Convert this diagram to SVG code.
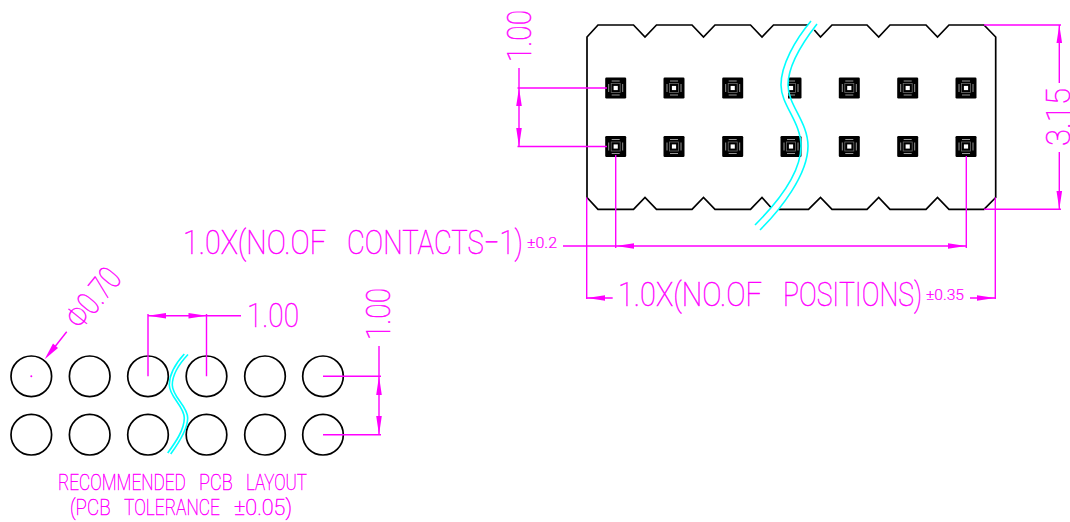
<svg xmlns="http://www.w3.org/2000/svg" width="1070" height="522" viewBox="0 0 1070 522">
<style>
.ol{fill:none;stroke:#000;stroke-width:1.7;stroke-linejoin:miter}
.hole{fill:none;stroke:#000;stroke-width:1.7}
.dim{fill:none;stroke:#ff00ff;stroke-width:1.4}
.ah{fill:#ff00ff;stroke:none}
.brk{fill:none;stroke:#00ffff;stroke-width:1.6}
text{fill:#ff00ff;font-family:"Roboto","Liberation Sans",sans-serif;font-weight:100;stroke:#ff00ff;stroke-width:.45}
.lg{font-size:33px}
.md{font-size:21.5px}
.sm{font-size:14px;font-weight:300;stroke-width:.2}
</style>
<defs>
<g id="pad">
<rect x="-10.5" y="-10.5" width="21" height="21" rx="1.2" fill="#000"/>
<path d="M-7-4V4M7-4V4M-4-7H4M-4 7H4" stroke="#a8a8a8" stroke-width=".9" fill="none"/>
<rect x="-4.5" y="-4.5" width="9" height="9" fill="none" stroke="#6a6a6a" stroke-width=".8"/>
<rect x="-2.1" y="-2.1" width="4.2" height="4.2" fill="#fff"/>
</g>
</defs>
<g id="connector-body">
<path class="ol" d="M808,25H773.5L762,37L750.5,25H715L703.5,37L692,25H656.5L645,37L633.5,25H598L587,37V197.5L598,209.3H633.5L645,197.5L656.5,209.3H692L703.5,197.5L715,209.3H750.5L762,197.5L771,207.5"/>
<path class="ol" d="M814.3,30L820.5,37L832,25H867L878.7,37L890,25H926L937.5,37L949,25H984L995.7,37V197.5L984,209.3H949L937.5,197.5L926,209.3H890L878.7,197.5L867,209.3H832L820.5,197.5L808.5,209.3H779"/>
</g>
<g id="pads">
<use href="#pad" x="615.7" y="88"/><use href="#pad" x="674" y="88"/><use href="#pad" x="732.7" y="88"/><use href="#pad" x="791" y="88"/><use href="#pad" x="849.3" y="88"/><use href="#pad" x="907.7" y="88"/><use href="#pad" x="966" y="88"/>
<use href="#pad" x="615.7" y="146.5"/><use href="#pad" x="674" y="146.5"/><use href="#pad" x="732.7" y="146.5"/><use href="#pad" x="791" y="146.5"/><use href="#pad" x="849.3" y="146.5"/><use href="#pad" x="907.7" y="146.5"/><use href="#pad" x="966" y="146.5"/>
<rect x="779" y="76" width="9" height="24" fill="#fff"/>
</g>
<g id="holes">
<circle class="hole" cx="31.3" cy="376.3" r="20.3"/><circle class="hole" cx="89.7" cy="376.3" r="20.3"/><circle class="hole" cx="148" cy="376.3" r="20.3"/><circle class="hole" cx="206.5" cy="376.3" r="20.3"/><circle class="hole" cx="265" cy="376.3" r="20.3"/><circle class="hole" cx="323" cy="376.3" r="20.3"/>
<circle class="hole" cx="31.3" cy="434.7" r="20.3"/><circle class="hole" cx="89.7" cy="434.7" r="20.3"/><circle class="hole" cx="148" cy="434.7" r="20.3"/><circle class="hole" cx="206.5" cy="434.7" r="20.3"/><circle class="hole" cx="265" cy="434.7" r="20.3"/><circle class="hole" cx="323" cy="434.7" r="20.3"/>
<circle cx="31.3" cy="376.3" r="1" fill="#ff00ff"/>
</g>
<g id="break-lines">
<path class="brk" d="M811,21C795,40 781,65 781,85C781,105 801,122 801,146C801,175 775,205 755,225"/>
<path class="brk" d="M817,24C803,42 788,65 788,85C788,105 808,122 808,146C808,175 780,210 760,230"/>
<path class="brk" d="M184.3,354C176,363 169.3,374 169.3,385C169.3,397 184.3,406 184.3,418C184.3,430 175,443 167.7,453"/>
<path class="brk" d="M188,354.5C180,363 172.3,374 172.3,385C172.3,397 187.7,406 187.7,418C187.7,430 178,444 170.7,454"/>
</g>
<g id="dimensions">
<path class="dim" d="M517.5,88H607M517.5,146.5H607M519,68V146.5"/>
<path class="ah" d="M519,88L521.8,106H516.2ZM519,146.5L521.8,128H516.2Z"/>
<path class="dim" d="M984,25H1061M984,209.3H1061M1059.3,25V83M1059.3,152V209.3"/>
<path class="ah" d="M1059.3,25L1062.1,43H1056.5ZM1059.3,209.3L1062.1,191H1056.5Z"/>
<path class="dim" d="M563,246H966M615.7,155V248M966.3,156V248"/>
<path class="ah" d="M616,246L634,243.2V248.8ZM966,246L948,243.2V248.8Z"/>
<path class="dim" d="M586.7,197.5V299M995.3,197.5V299M586.7,298H612.7M970,298H995.3"/>
<path class="ah" d="M587,298L605,295.2V300.8ZM995,298L977,295.2V300.8Z"/>
<path class="dim" d="M148,314V376.3M206.5,314V376.3M148,315.7H241"/>
<path class="ah" d="M148,315.7L166,312.9V318.5ZM206.5,315.7L188.5,312.9V318.5Z"/>
<path class="dim" d="M323,376.3H381M323,434.7H381M379,346V434.7"/>
<path class="ah" d="M379,376.3L381.8,395H376.2ZM379,434.7L381.8,416H376.2Z"/>
<path class="dim" d="M66.7,331.7L50,353"/>
<path class="ah" d="M44.7,359.3L53,343.5L58,348Z"/>
</g>
<g id="labels">
<text class="lg" transform="translate(531,62) rotate(-90)" textLength="52" lengthAdjust="spacingAndGlyphs">1.00</text>
<text class="lg" transform="translate(1070,146) rotate(-90)" textLength="58" lengthAdjust="spacingAndGlyphs">3.15</text>
<text class="lg" transform="translate(183,254) scale(.8,1)"><tspan x="0" textLength="187.5" lengthAdjust="spacingAndGlyphs">1.0X(NO.OF </tspan><tspan x="205" textLength="220" lengthAdjust="spacingAndGlyphs">CONTACTS−1)</tspan></text>
<text class="sm" x="527" y="248" textLength="30" lengthAdjust="spacingAndGlyphs">±0.2</text>
<text class="lg" transform="translate(618,306) scale(.8,1)"><tspan x="0" textLength="188.75" lengthAdjust="spacingAndGlyphs">1.0X(NO.OF </tspan><tspan x="206.25" textLength="173.75" lengthAdjust="spacingAndGlyphs">POSITIONS)</tspan></text>
<text class="sm" x="926" y="300" textLength="38" lengthAdjust="spacingAndGlyphs">±0.35</text>
<text class="lg" x="247" y="327" textLength="52" lengthAdjust="spacingAndGlyphs">1.00</text>
<text class="lg" transform="translate(390,340) rotate(-90)" textLength="52" lengthAdjust="spacingAndGlyphs">1.00</text>
<text class="lg" transform="translate(81,331) rotate(-51)" textLength="67" lengthAdjust="spacingAndGlyphs">Φ0.70</text>
<text class="md" transform="translate(58,490) scale(.82,1)"><tspan x="0" textLength="161" lengthAdjust="spacingAndGlyphs">RECOMMENDED </tspan><tspan x="172" textLength="46.3" lengthAdjust="spacingAndGlyphs">PCB </tspan><tspan x="229.3" textLength="74.4" lengthAdjust="spacingAndGlyphs">LAYOUT</tspan></text>
<text class="md" transform="translate(70,515) scale(.82,1)"><tspan x="0" textLength="54.9" lengthAdjust="spacingAndGlyphs">(PCB </tspan><tspan x="65.9" textLength="122" lengthAdjust="spacingAndGlyphs">TOLERANCE </tspan><tspan x="200" textLength="70.7" lengthAdjust="spacingAndGlyphs">±0.05)</tspan></text>
</g>
</svg>
